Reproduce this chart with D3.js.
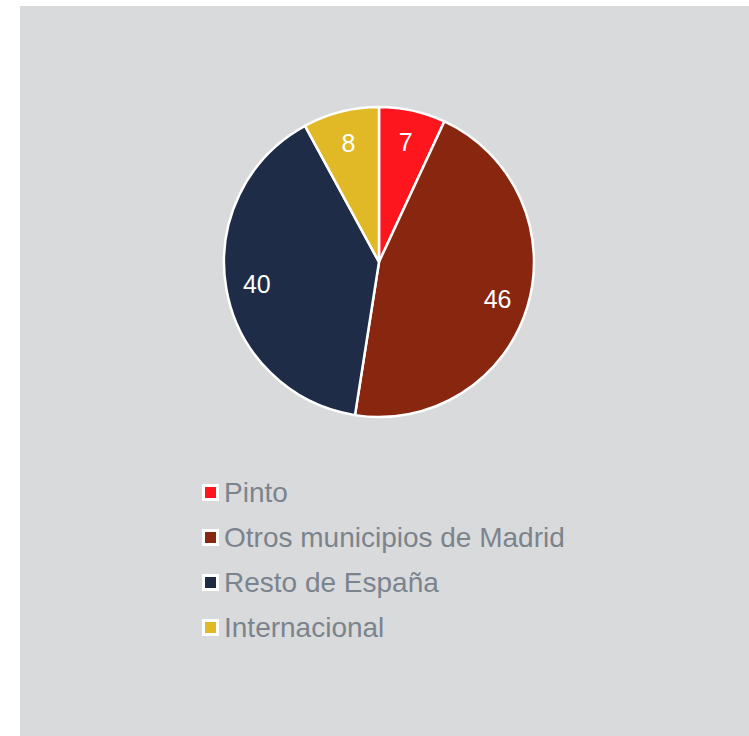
<!DOCTYPE html>
<html>
<head>
<meta charset="utf-8">
<script src="https://cdn.jsdelivr.net/npm/d3@7"></script>
<style>
  body { margin: 0; background: #fff; }
</style>
</head>
<body>
<div id="chart"></div>
<script>
// Données
const categories = ["Pinto", "Otros municipios de Madrid", "Resto de España", "Internacional"];
const values = [7, 46, 40, 8];
const colors = ["#fe161f", "#88260f", "#1e2c47", "#e1b826"];

const width = 749;
const height = 736;
const cx = 379;
const cy = 262;
const radius = 155;

const svg = d3.create("svg")
    .attr("viewBox", [0, 0, width, height])
    .attr("width", width)
    .attr("height", height)
    .style("font-family", "'Liberation Sans', Arial, sans-serif");

// Fond gris
svg.append("rect")
    .attr("x", 20).attr("y", 6)
    .attr("width", width - 20).attr("height", height - 6)
    .attr("fill", "#d9dadc");

const data = categories.map((c, i) => ({name: c, value: values[i], color: colors[i]}));

const pie = d3.pie().sort(null).value(d => d.value);
const arc = d3.arc().innerRadius(0).outerRadius(radius);
const labelArc = d3.arc().innerRadius(radius * 0.8).outerRadius(radius * 0.8);

const g = svg.append("g").attr("transform", `translate(${cx},${cy})`);

g.selectAll("path")
  .data(pie(data))
  .join("path")
    .attr("d", arc)
    .attr("fill", d => d.data.color)
    .attr("stroke", "#fff")
    .attr("stroke-width", 2.5)
    .attr("stroke-linejoin", "round");

g.selectAll("text")
  .data(pie(data))
  .join("text")
    .attr("transform", d => `translate(${labelArc.centroid(d)})`)
    .attr("text-anchor", "middle")
    .attr("dy", "0.4em")
    .attr("fill", "#fff")
    .attr("font-size", 25)
    .text(d => d.data.value);

// Légende
const legend = svg.append("g")
  .selectAll("g")
  .data(data)
  .join("g")
    .attr("transform", (d, i) => `translate(202,${492 + i * 45})`);

legend.append("rect")
    .attr("x", 0).attr("y", -8)
    .attr("width", 17).attr("height", 17)
    .attr("fill", "#fff");
legend.append("rect")
    .attr("x", 3).attr("y", -5)
    .attr("width", 11).attr("height", 11)
    .attr("fill", d => d.color);
legend.append("text")
    .attr("x", 22)
    .attr("dy", "0.36em")
    .attr("fill", "#7b848d")
    .attr("font-size", 28)
    .text(d => d.name);

document.getElementById("chart").appendChild(svg.node());
</script>
</body>
</html>
